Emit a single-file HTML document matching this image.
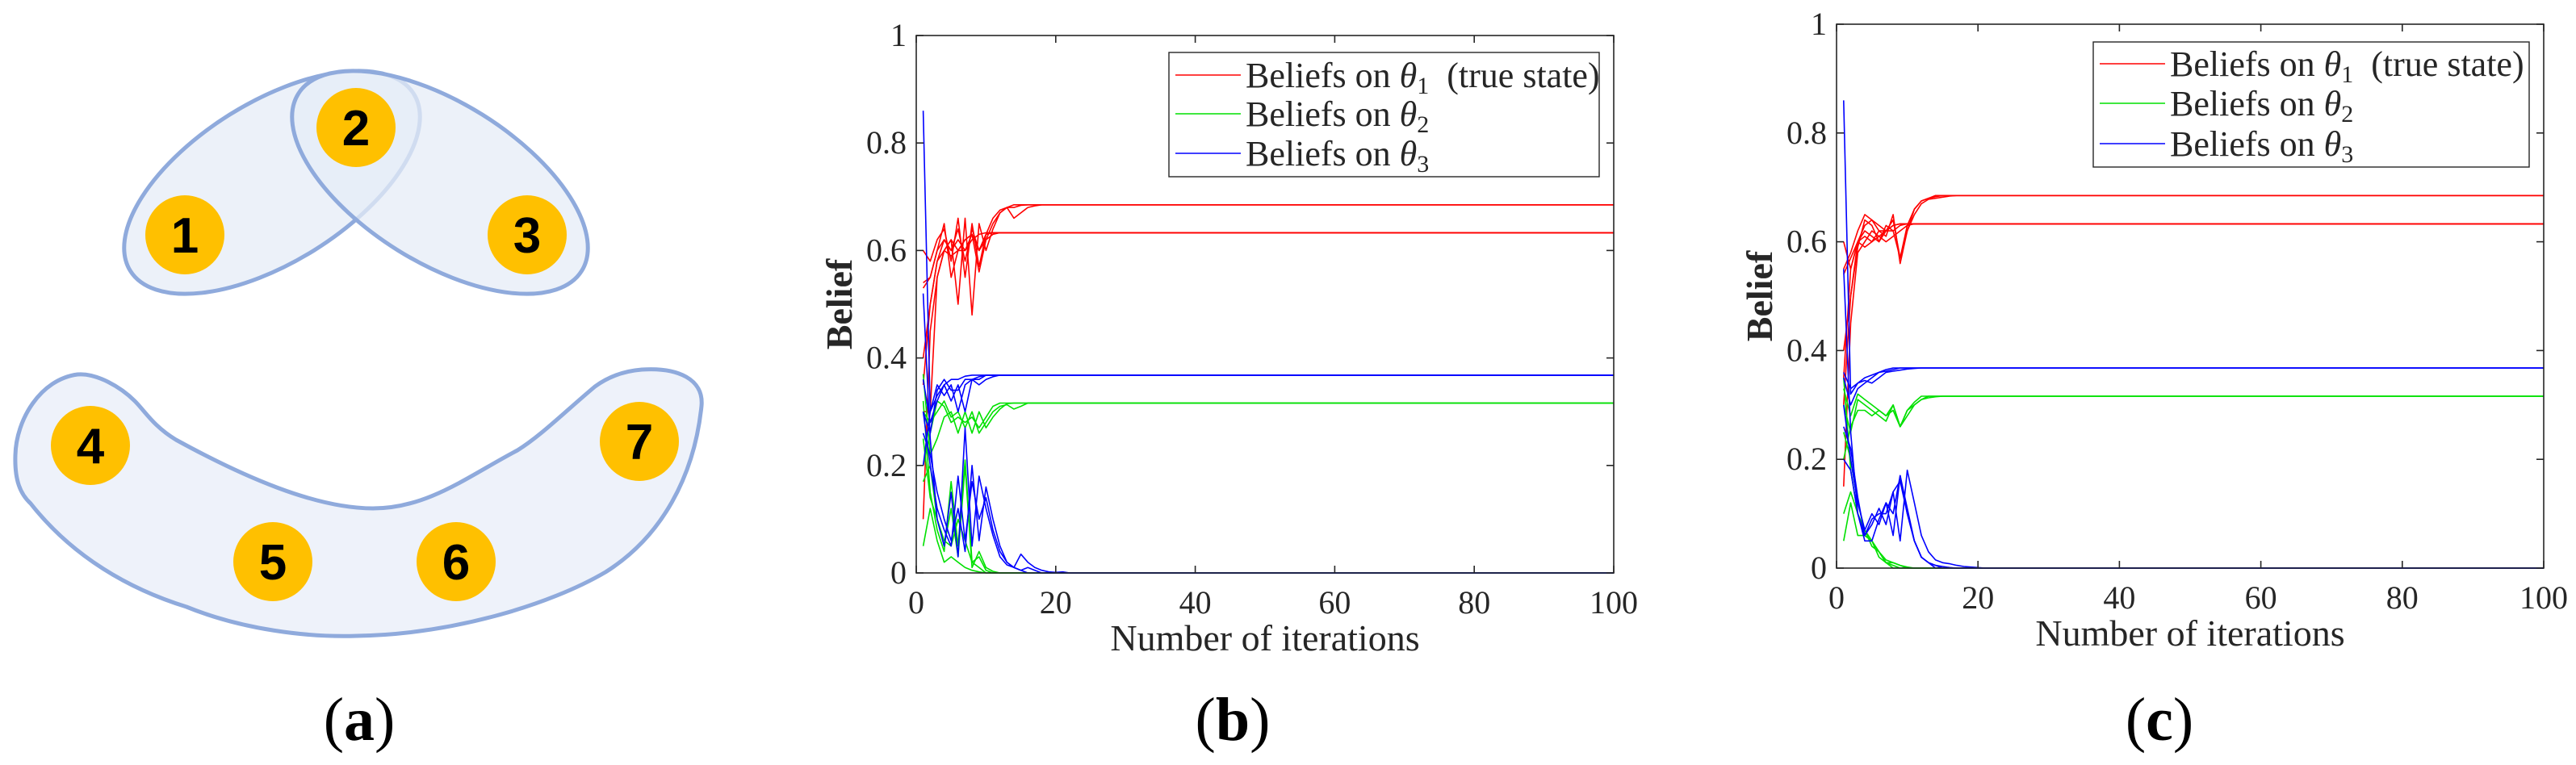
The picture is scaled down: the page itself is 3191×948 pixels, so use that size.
<!DOCTYPE html>
<html><head><meta charset="utf-8">
<style>
html,body{margin:0;padding:0;background:#fff;}
svg{display:block;}
text{font-family:"Liberation Serif",serif;fill:#262626;}
</style></head>
<body>
<svg id="fig" width="3191" height="948" viewBox="0 0 3191 948" xmlns="http://www.w3.org/2000/svg">
  <g id="panel-a">
    <ellipse cx="337" cy="226" rx="207" ry="99" transform="rotate(-32 337 226)" fill="#E6ECF7" fill-opacity="0.75" stroke="#8FAADC" stroke-width="5"/>
    <ellipse cx="545" cy="226" rx="207" ry="99" transform="rotate(32 545 226)" fill="#E6ECF7" fill-opacity="0.75" stroke="#8FAADC" stroke-width="5"/>
    <path d="M96,464 C50,470 20,520 19,564 C18,595 25,612 38,624 C90,690 160,730 231,752 C300,780 380,790 442,788 C560,786 680,750 750,709 C820,665 860,590 869,503 C872,470 840,455 795,458 C770,460 752,468 737,479 C700,510 670,540 641,558 C580,590 530,630 462,630 C390,630 300,590 218,545 C190,528 180,510 167,497 C150,480 120,462 96,464 Z" fill="#EEF2FA" stroke="#8FAADC" stroke-width="5"/>
    <g font-family="Liberation Sans, sans-serif" font-weight="bold" font-size="62" text-anchor="middle">
      <circle cx="229" cy="291" r="49" fill="#FFC000"/><text x="229" y="313" style="font-family:'Liberation Sans',sans-serif;fill:#000">1</text>
      <circle cx="441" cy="158" r="49" fill="#FFC000"/><text x="441" y="180" style="font-family:'Liberation Sans',sans-serif;fill:#000">2</text>
      <circle cx="653" cy="291" r="49" fill="#FFC000"/><text x="653" y="313" style="font-family:'Liberation Sans',sans-serif;fill:#000">3</text>
      <circle cx="112" cy="552" r="49" fill="#FFC000"/><text x="112" y="574" style="font-family:'Liberation Sans',sans-serif;fill:#000">4</text>
      <circle cx="338" cy="696" r="49" fill="#FFC000"/><text x="338" y="718" style="font-family:'Liberation Sans',sans-serif;fill:#000">5</text>
      <circle cx="565" cy="696" r="49" fill="#FFC000"/><text x="565" y="718" style="font-family:'Liberation Sans',sans-serif;fill:#000">6</text>
      <circle cx="792" cy="547" r="49" fill="#FFC000"/><text x="792" y="569" style="font-family:'Liberation Sans',sans-serif;fill:#000">7</text>
    </g>
    <text x="445" y="917" font-size="76" text-anchor="middle" style="fill:#000">(<tspan font-weight="bold">a</tspan>)</text>
  </g>
  <text x="1527" y="917" font-size="76" text-anchor="middle" style="fill:#000">(<tspan font-weight="bold">b</tspan>)</text>
  <text x="2675" y="917" font-size="76" text-anchor="middle" style="fill:#000">(<tspan font-weight="bold">c</tspan>)</text>
</svg>
<script>
// ---- data: panel (b) ----
const xTicks = [0, 20, 40, 60, 80, 100];
const yTicks = [0, 0.2, 0.4, 0.6, 0.8, 1];
const yTickLabels = ["0", "0.2", "0.4", "0.6", "0.8", "1"];
const nIterations = 100;
const bRed = [
  [0.54,0.55,0.6,0.62,0.6,0.62,0.6,0.63,0.6,0.62,0.65,0.67,0.68,0.66,0.67,0.68,0.683,0.685],
  [0.6,0.58,0.62,0.64,0.58,0.66,0.55,0.65,0.57,0.63,0.66,0.675,0.68,0.68,0.684,0.685],
  [0.4,0.5,0.58,0.6,0.62,0.5,0.66,0.48,0.65,0.6,0.64,0.67,0.68,0.685],
  [0.1,0.45,0.55,0.6,0.62,0.6,0.62,0.63,0.6,0.63,0.633],
  [0.53,0.55,0.6,0.65,0.55,0.6,0.62,0.63,0.56,0.62,0.63,0.633],
  [0.35,0.5,0.58,0.62,0.6,0.64,0.58,0.64,0.6,0.63,0.633],
  [0.3,0.3,0.55,0.6,0.59,0.6,0.6,0.62,0.63,0.633]
];
const bGreen = [
  [0.3,0.28,0.3,0.32,0.29,0.3,0.27,0.3,0.26,0.28,0.3,0.31,0.313,0.305,0.31,0.316],
  [0.37,0.22,0.25,0.29,0.3,0.26,0.3,0.26,0.3,0.27,0.29,0.305,0.315,0.316],
  [0.2,0.26,0.32,0.31,0.28,0.29,0.28,0.29,0.27,0.29,0.31,0.316],
  [0.05,0.12,0.06,0.02,0.03,0.02,0.01,0.005,0.002,0],
  [0.17,0.2,0.1,0.05,0.12,0.03,0.2,0.01,0.04,0.01,0.003,0],
  [0.32,0.15,0.08,0.04,0.17,0.05,0.21,0.02,0.03,0.005,0],
  [0.25,0.14,0.1,0.06,0.05,0.1,0.06,0.02,0.01,0]
];
const bBlue = [
  [0.86,0.3,0.33,0.35,0.32,0.35,0.3,0.36,0.35,0.36,0.365,0.368],
  [0.3,0.26,0.34,0.36,0.34,0.34,0.36,0.36,0.365,0.368],
  [0.2,0.3,0.35,0.33,0.35,0.3,0.35,0.36,0.36,0.368],
  [0.36,0.28,0.32,0.35,0.36,0.36,0.366,0.368],
  [0.52,0.25,0.1,0.05,0.15,0.03,0.27,0.05,0.18,0.12,0.07,0.03,0.015,0.01,0.035,0.02,0.01,0.005,0.002,0.001,0.002,0],
  [0.3,0.2,0.12,0.08,0.05,0.18,0.06,0.17,0.1,0.14,0.08,0.04,0.02,0.01,0.005,0.01,0.005,0],
  [0.26,0.22,0.15,0.1,0.06,0.12,0.04,0.2,0.06,0.16,0.1,0.05,0.02,0.01,0.005,0]
];
// ---- data: panel (c) ----
const cRed = [
  [0.54,0.57,0.6,0.63,0.64,0.63,0.62,0.64,0.57,0.62,0.65,0.67,0.678,0.68,0.682,0.684,0.685],
  [0.55,0.58,0.62,0.65,0.64,0.62,0.61,0.65,0.56,0.62,0.66,0.675,0.68,0.683,0.685],
  [0.4,0.5,0.59,0.64,0.63,0.6,0.63,0.62,0.57,0.63,0.66,0.675,0.68,0.685],
  [0.6,0.55,0.6,0.59,0.6,0.61,0.6,0.61,0.62,0.63,0.633],
  [0.15,0.45,0.58,0.6,0.62,0.61,0.62,0.62,0.63,0.633],
  [0.3,0.5,0.6,0.62,0.61,0.6,0.62,0.63,0.633],
  [0.35,0.55,0.6,0.61,0.6,0.62,0.62,0.63,0.633]
];
const cGreen = [
  [0.3,0.25,0.31,0.3,0.29,0.28,0.27,0.3,0.26,0.28,0.3,0.31,0.313,0.315,0.316],
  [0.33,0.28,0.32,0.31,0.3,0.29,0.28,0.29,0.26,0.29,0.3,0.31,0.316],
  [0.2,0.26,0.29,0.29,0.28,0.29,0.28,0.3,0.26,0.29,0.305,0.316],
  [0.05,0.12,0.06,0.06,0.05,0.03,0.01,0.01,0.005,0.002,0],
  [0.1,0.14,0.1,0.07,0.05,0.03,0.015,0.01,0.005,0],
  [0.25,0.2,0.12,0.07,0.04,0.03,0.01,0.005,0],
  [0.35,0.18,0.1,0.06,0.05,0.02,0.01,0]
];
const cBlue = [
  [0.86,0.32,0.34,0.345,0.34,0.35,0.36,0.362,0.364,0.366,0.367,0.368],
  [0.36,0.33,0.34,0.35,0.355,0.36,0.362,0.365,0.368],
  [0.35,0.3,0.33,0.34,0.35,0.36,0.365,0.368],
  [0.55,0.25,0.1,0.06,0.08,0.11,0.08,0.14,0.05,0.18,0.12,0.06,0.03,0.015,0.01,0.008,0.005,0.003,0.002,0.001,0],
  [0.3,0.2,0.12,0.07,0.1,0.08,0.12,0.06,0.17,0.1,0.05,0.02,0.01,0.005,0.003,0.001,0],
  [0.26,0.22,0.13,0.06,0.09,0.1,0.1,0.14,0.16,0.1,0.05,0.02,0.01,0.005,0],
  [0.2,0.18,0.1,0.05,0.05,0.09,0.12,0.1,0.17,0.11,0.05,0.02,0.01,0]
];

const NS = "http://www.w3.org/2000/svg";
const svg = document.getElementById('fig');
function mk(tag, attrs, parent) {
  const e = document.createElementNS(NS, tag);
  for (const k in attrs) e.setAttribute(k, attrs[k]);
  parent.appendChild(e);
  return e;
}

function drawPanel(id, box, legend, series) {
  const g = mk('g', {id: id}, svg);
  
  
  const X = v => box.l + (v / nIterations) * (box.r - box.l);
  const Y = v => box.b - v * (box.b - box.t);
  const clip = mk('clipPath', {id: id + '-clip'}, g);
  mk('rect', {x: box.l, y: box.t - 2, width: box.r - box.l, height: box.b - box.t + 4}, clip);
  const plot = mk('g', {'clip-path': 'url(#' + id + '-clip)'}, g);
  
  
  series.forEach(s => {
    s.data.forEach((agent, ai) => {
      let pts = [];
      for (let i = 1; i <= nIterations; i++) {
        const v = i <= agent.length ? agent[i - 1] : agent[agent.length - 1];
        pts.push(X(i).toFixed(1) + ',' + Y(v).toFixed(1));
      }
      const pl = mk('polyline', {points: pts.join(' '), fill: 'none', stroke: s.color, 'stroke-width': 1.6, 'stroke-linejoin': 'round'}, plot);
      
      
    });
  });
  const ax = mk('rect', {x: box.l, y: box.t, width: box.r - box.l, height: box.b - box.t, fill: 'none', stroke: '#262626', 'stroke-width': 1.6}, g);
  
  
  xTicks.forEach(v => {
    const x = X(v);
    mk('line', {x1: x, y1: box.b, x2: x, y2: box.b - 9, stroke: '#262626', 'stroke-width': 1.6}, g);
    mk('line', {x1: x, y1: box.t, x2: x, y2: box.t + 9, stroke: '#262626', 'stroke-width': 1.6}, g);
    const t = mk('text', {x: x, y: box.b + 50, 'font-size': 40, 'text-anchor': 'middle'}, g);
    t.textContent = String(v);
    
    
  });
  yTicks.forEach((v, i) => {
    const y = Y(v);
    mk('line', {x1: box.l, y1: y, x2: box.l + 9, y2: y, stroke: '#262626', 'stroke-width': 1.6}, g);
    mk('line', {x1: box.r, y1: y, x2: box.r - 9, y2: y, stroke: '#262626', 'stroke-width': 1.6}, g);
    const t = mk('text', {x: box.l - 12, y: y + 13, 'font-size': 40, 'text-anchor': 'end'}, g);
    t.textContent = yTickLabels[i];
    
    
  });
  const xt = mk('text', {x: (box.l + box.r) / 2, y: box.b + 96, 'font-size': 46, 'text-anchor': 'middle'}, g);
  xt.textContent = 'Number of iterations';
  
  
  const yc = (box.t + box.b) / 2;
  const yt = mk('text', {x: box.l - 80, y: yc, 'font-size': 46, 'font-weight': 'bold', 'text-anchor': 'middle', transform: 'rotate(-90 ' + (box.l - 80) + ' ' + yc + ')'}, g);
  yt.textContent = 'Belief';
  
  
  const lg = mk('g', {}, g);
  
  
  mk('rect', {x: legend.x, y: legend.y, width: legend.w, height: legend.h, fill: '#fff', stroke: '#262626', 'stroke-width': 1.4}, lg);
  const labels = [['1', ' (true state)'], ['2', ''], ['3', '']];
  series.forEach((s, i) => {
    const ry = legend.rows[i];
    const ln = mk('line', {x1: legend.x + 8, y1: ry, x2: legend.x + 89, y2: ry, stroke: s.color, 'stroke-width': 1.6}, lg);
    
    
    const t = mk('text', {x: legend.x + 95, y: ry + 15, 'font-size': 44}, lg);
    
    
    t.appendChild(document.createTextNode('Beliefs on '));
    const th = mk('tspan', {'font-style': 'italic'}, t); th.textContent = 'θ';
    const sb = mk('tspan', {'font-size': 30, dy: 8}, t); sb.textContent = labels[i][0];
    if (labels[i][1]) { const r = mk('tspan', {dy: -8}, t); r.textContent = '\u00a0' + labels[i][1]; }
  });
}

drawPanel('panel-b', {l: 1135, r: 1999, t: 44, b: 710},
  {x: 1448, y: 65, w: 533, h: 154, rows: [93, 141, 190]},
  [{name: 'theta1', color: '#FF0000', data: bRed}, {name: 'theta2', color: '#00E000', data: bGreen}, {name: 'theta3', color: '#0000FF', data: bBlue}]);
drawPanel('panel-c', {l: 2275, r: 3151, t: 30, b: 704},
  {x: 2593, y: 52, w: 540, h: 155, rows: [79, 128, 178]},
  [{name: 'theta1', color: '#FF0000', data: cRed}, {name: 'theta2', color: '#00E000', data: cGreen}, {name: 'theta3', color: '#0000FF', data: cBlue}]);
</script>
</body></html>
